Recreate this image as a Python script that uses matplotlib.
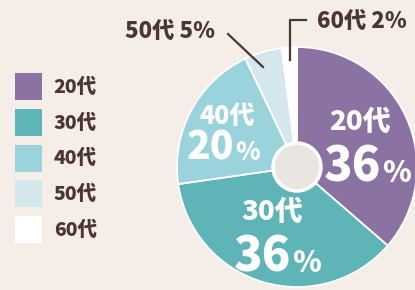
import numpy as np
import matplotlib
matplotlib.use("Agg")
import matplotlib.pyplot as plt
from matplotlib.patches import Patch, Circle

plt.rcParams['font.family'] = ['Noto Sans CJK JP', 'DejaVu Sans']

# data
ages = ['20代', '30代', '40代', '50代', '60代']
shares = [36, 36, 20, 5, 2]
colors = ['#8a73a3', '#5fb4b7', '#9bd3dd', '#d3e7ec', '#ffffff']

bg = '#f4ede8'
ink = '#4d3631'
wt = 'heavy'

W, H = 415, 290
fig = plt.figure(figsize=(W / 100, H / 100), dpi=100, facecolor=bg)
ax = fig.add_axes([0, 0, 1, 1])
ax.set_facecolor(bg)

# pie in pixel units (y measured from bottom)
cx, cy, r = 297, H - 167, 120
wedges, _ = ax.pie(shares, colors=colors, startangle=90, counterclock=False,
                   radius=r, center=(cx, cy),
                   wedgeprops=dict(edgecolor='white', linewidth=1.3))
ax.add_patch(Circle((cx, cy), 24, facecolor='#e9e5e0', edgecolor='white',
                    linewidth=2.5, zorder=5))

ax.set_xlim(0, W)
ax.set_ylim(0, H)
ax.set_aspect('equal')
ax.axis('off')

# labels inside the wedges
def inner_label(age, pct, xc, y_age, x_split, y_base, s_age, s_num, s_pct):
    ax.text(xc, H - y_age, age, color='white', fontsize=s_age, fontweight=wt,
            ha='center', va='center')
    ax.text(x_split, H - y_base, pct, color='white', fontsize=s_num,
            fontweight=wt, ha='right', va='baseline')
    ax.text(x_split + 1, H - y_base, '%', color='white', fontsize=s_pct,
            fontweight=wt, ha='left', va='baseline')

inner_label(ages[0], str(shares[0]), 360, 122, 381, 182, 20, 34, 21)
inner_label(ages[1], str(shares[1]), 272, 212, 291, 272, 20, 34, 21)
inner_label(ages[2], str(shares[2]), 227, 116, 234, 160, 18, 28, 18)

# callouts for small slices
ax.text(170, H - 31, f'{ages[3]} {shares[3]}%', color=ink, fontsize=16,
        fontweight=wt, ha='center', va='center')
ax.plot([228, 263], [H - 34, H - 67], color=ink, linewidth=1.6)
ax.text(362, H - 21, f'{ages[4]} {shares[4]}%', color=ink, fontsize=16,
        fontweight=wt, ha='center', va='center')
ax.plot([306, 290, 290], [H - 20, H - 20, H - 60], color=ink, linewidth=1.6)

# legend
handles = [Patch(facecolor=c, edgecolor='none') for c in colors]
leg = ax.legend(handles, ages, loc='upper left', bbox_to_anchor=(15 / W, 1 - 73 / H),
                frameon=False, fontsize=14, handlelength=1.39, handleheight=1.76,
                labelspacing=0.45, handletextpad=0.6, borderpad=0, borderaxespad=0)
for t in leg.get_texts():
    t.set_color(ink)
    t.set_fontweight(wt)

fig.savefig('out.png', dpi=100, facecolor=bg)
